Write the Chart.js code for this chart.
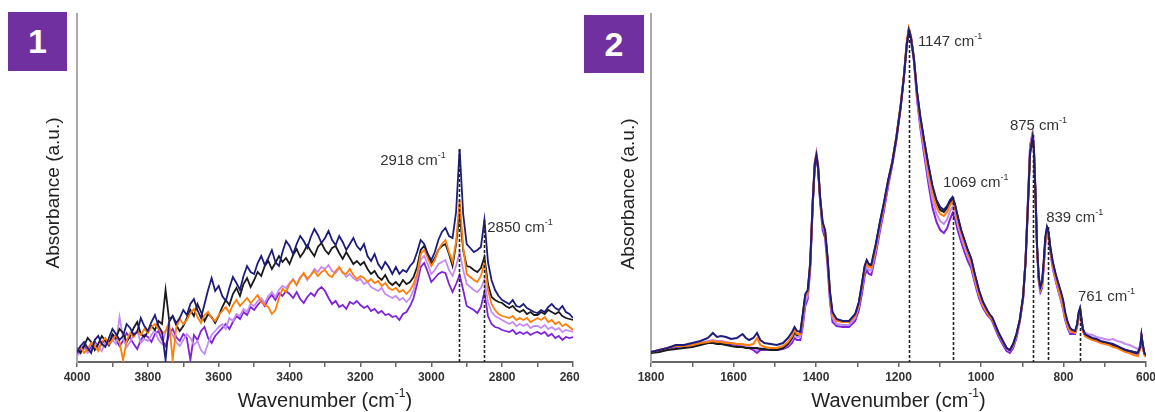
<!DOCTYPE html>
<html><head><meta charset="utf-8">
<script src="https://cdn.jsdelivr.net/npm/chart.js@4.4.0/dist/chart.umd.min.js"></script>
<style>
html,body{margin:0;padding:0;background:#fff;width:1155px;height:412px;overflow:hidden;position:relative}
canvas{position:absolute;top:0}
#c1{left:0}
#c2{left:580px}
.badge{position:absolute;background:#7030a0;color:#fff;font:bold 34px 'Liberation Sans',Arial,sans-serif;display:flex;align-items:center;justify-content:center}
</style></head><body>
<canvas id="c1" width="580" height="412"></canvas>
<canvas id="c2" width="575" height="412"></canvas>
<div class="badge" style="left:8px;top:12px;width:59px;height:59px">1</div>
<div class="badge" style="left:584px;top:15px;width:60px;height:58px">2</div>
<script>
// ---------- Panel 1 : 4000 - 2600 cm-1, step 10 ----------
const wn1 = [];
for (let w = 4000; w >= 2600; w -= 10) wn1.push(w);

const navy1 = [
 10,16,20,14,9,22,26,18,15,24,
 33,28,22,26,38,34,27,30,44,36,
 31,40,47,36,30,2,40,46,39,44,
 52,47,58,63,52,44,58,72,84,71,
 76,66,61,74,85,79,72,86,96,90,
 88,99,106,97,104,112,100,96,110,121,
 116,108,118,126,121,114,125,133,127,119,
 124,131,122,117,126,120,112,118,124,116,
 112,118,106,101,108,98,93,100,95,88,
 95,88,92,90,96,100,110,122,118,108,
 102,110,122,130,134,126,124,150,213,148,
 118,114,110,112,115,142,100,82,72,66,
 62,60,58,62,56,55,58,54,52,50,
 49,52,50,55,58,54,52,56,50,48,
 44];
const black1 = [
 14,9,16,24,20,12,18,26,21,17,
 28,24,33,29,20,26,34,40,28,25,
 30,36,32,41,38,72,42,46,37,31,
 36,44,52,46,58,50,41,48,45,39,
 46,55,62,57,68,74,66,78,84,75,
 82,90,86,96,101,93,99,106,100,104,
 98,107,113,105,110,117,111,106,115,119,
 112,108,114,116,109,103,110,104,98,101,
 97,100,93,88,91,85,82,87,80,77,
 80,76,82,78,80,85,95,112,116,108,
 98,104,112,116,118,108,96,118,150,112,
 96,95,92,90,94,105,78,65,62,60,
 59,56,54,56,52,50,52,48,50,47,
 47,50,48,52,50,48,50,46,44,43,
 42];
const orange1 = [
 12,15,9,13,19,16,11,20,24,18,
 22,27,20,2,21,29,25,31,27,33,
 29,35,38,33,28,31,40,2,34,43,
 38,42,49,53,45,39,47,50,44,41,
 47,51,55,49,57,62,56,60,64,59,
 63,67,60,57,55,48,52,64,73,70,
 78,82,77,84,89,83,87,91,86,90,
 92,87,85,91,95,89,88,93,87,83,
 86,84,80,83,79,81,76,79,74,72,
 74,70,72,68,72,78,88,108,112,104,
 96,102,112,118,122,110,100,120,162,115,
 88,85,82,80,86,99,72,58,52,48,
 46,45,44,46,42,44,42,44,40,42,
 44,42,45,40,42,38,40,36,38,35,
 32];
const lavender1 = [
 6,10,14,9,12,18,15,11,20,16,
 22,18,45,24,15,20,28,31,19,23,
 21,27,32,22,18,30,34,27,20,16,
 22,28,24,17,21,12,8,19,27,31,
 35,38,33,44,41,48,46,53,50,58,
 56,61,64,59,66,70,65,72,76,74,
 79,83,77,85,88,82,87,93,90,95,
 93,97,91,89,94,90,85,88,84,81,
 83,78,80,75,73,71,74,68,66,64,
 66,62,64,60,64,72,85,102,106,98,
 88,92,98,100,102,92,86,96,110,92,
 78,75,72,70,74,82,60,50,46,44,
 42,40,38,40,36,38,36,38,34,36,
 36,34,37,33,35,32,34,30,32,31,
 30];
const violet1 = [
 8,12,17,10,15,21,14,18,23,19,
 26,22,16,21,29,24,18,13,22,27,
 25,20,28,31,22,16,27,33,25,21,
 28,24,2,27,22,31,35,24,19,26,
 30,34,38,33,40,46,43,50,47,55,
 52,57,61,56,63,67,62,69,66,71,
 68,64,70,63,59,65,69,66,72,75,
 71,64,58,61,55,57,53,60,58,61,
 57,54,56,51,53,49,51,47,48,45,
 46,42,48,50,56,64,78,95,99,90,
 80,84,88,90,89,78,70,78,87,72,
 56,54,52,49,55,70,46,38,35,34,
 32,31,30,32,28,30,28,30,27,29,
 30,28,30,26,28,24,26,22,25,24,
 25];

// ---------- Panel 2 : 1800 - 600 cm-1 ----------
const wn2 = [
 1800,1780,1760,1740,1720,1700,1680,1662,1650,1640,
 1630,1618,1606,1592,1578,1570,1562,1552,1543,1535,
 1525,1510,1495,1480,1468,1458,1452,1446,1438,1432,
 1426,1420,1414,1408,1403,1399,1395,1390,1384,1378,
 1372,1366,1360,1350,1335,1320,1305,1296,1288,1282,
 1277,1272,1266,1255,1245,1235,1225,1215,1205,1195,
 1187,1180,1175,1170,1163,1155,1147,1138,1128,1118,
 1108,1099,1090,1082,1075,1069,1063,1056,1048,1040,
 1032,1024,1015,1005,995,985,978,973,966,958,
 948,938,930,922,914,906,898,892,886,881,
 875,872,868,864,860,856,852,848,844,840,
 836,832,826,819,812,806,801,796,790,784,
 778,772,767,763,760,757,753,748,740,730,
 720,710,700,690,680,670,660,650,640,630,
 620,614,611,608,604,600];
const navy2 = [
 10,12,14,17,17,19,21,24,29,25,
 26,25,23,24,28,24,22,24,29,22,
 19,18,17,19,24,30,35,31,30,48,
 68,72,100,160,198,207,196,165,140,132,
 105,70,50,43,41,41,48,60,80,96,
 102,98,97,118,140,160,182,200,225,255,
 285,318,332,325,305,270,245,222,198,177,
 162,155,152,156,162,165,158,145,132,122,
 112,104,88,72,60,52,47,45,38,30,
 22,14,12,18,28,42,65,100,160,210,
 225,215,170,115,85,75,80,100,125,135,
 130,115,100,88,78,70,62,50,40,34,
 32,31,38,50,54,45,33,28,26,24,
 23,21,20,19,18,16,14,12,11,10,
 9,15,27,18,9,7];
const black2 = [
 9,10,12,13,14,15,17,19,19,18,
 18,17,16,15,15,14,14,14,14,13,
 13,12,12,14,18,24,30,27,28,46,
 66,70,98,158,196,205,194,163,138,130,
 103,68,48,42,40,40,47,59,79,95,
 101,97,96,117,139,159,181,200,225,255,
 285,318,332,325,305,269,244,221,197,175,
 160,152,150,154,160,163,156,144,131,121,
 111,103,87,71,59,51,46,44,37,29,
 21,14,12,18,28,42,65,100,158,208,
 223,213,168,114,84,74,79,99,124,134,
 129,114,99,87,77,68,60,48,39,33,
 31,30,37,49,53,44,32,27,25,23,
 22,20,19,18,17,15,13,12,11,10,
 9,14,26,17,8,6];
const orange2 = [
 10,12,14,16,16,17,19,20,21,20,
 20,19,19,18,18,17,17,18,24,17,
 15,14,14,16,20,26,32,28,28,46,
 66,70,98,160,199,208,196,164,138,130,
 103,67,47,41,40,40,46,58,78,94,
 99,95,94,115,138,158,181,201,226,257,
 287,320,334,327,306,268,242,218,192,170,
 155,148,146,150,157,160,153,141,129,119,
 109,100,84,68,57,49,45,43,37,29,
 21,14,12,17,27,41,64,100,160,212,
 226,215,169,113,83,73,77,96,121,132,
 127,112,97,84,73,64,56,45,37,31,
 30,29,36,48,52,43,31,26,24,22,
 21,19,18,17,15,14,12,10,9,7,
 6,13,25,16,7,5];
const lavender2 = [
 10,12,14,16,16,17,19,21,22,21,
 21,20,19,18,17,16,15,14,12,14,
 13,12,13,14,17,22,28,25,25,40,
 60,66,95,160,201,210,198,164,136,128,
 100,64,44,38,37,37,44,56,75,90,
 96,92,91,112,135,156,179,199,224,255,
 285,318,333,326,304,265,238,213,186,163,
 148,141,138,143,151,155,149,137,125,115,
 106,98,82,67,56,49,46,43,36,28,
 20,13,11,16,26,41,64,101,162,215,
 228,217,170,113,82,72,76,96,121,132,
 127,112,96,83,72,62,55,44,36,30,
 30,30,37,48,52,44,33,29,28,27,
 25,24,23,22,23,21,20,18,17,15,
 13,16,27,18,9,6];
const violet2 = [
 10,11,13,15,16,17,18,19,20,19,
 19,18,18,17,16,15,14,12,9,12,
 12,12,12,13,15,19,24,22,22,36,
 56,63,92,156,197,204,193,160,132,124,
 96,60,40,36,35,35,41,52,70,86,
 92,88,87,108,131,152,176,197,222,253,
 284,316,331,324,302,262,234,208,180,155,
 140,132,129,134,143,149,143,131,120,110,
 101,94,79,64,54,47,44,41,34,26,
 18,11,9,14,24,40,63,102,164,217,
 229,218,170,112,80,70,74,94,119,130,
 125,110,94,81,70,61,53,42,34,28,
 28,28,35,46,50,42,31,27,25,23,
 21,20,19,18,17,15,13,12,10,9,
 8,14,26,17,8,6];

// Peak annotations: line position, line top, label text, label anchor (data units)
const peaks1 = [
 {pos:2921, top:213, label:'2918', lx:3144, ly:201},
 {pos:2850, top:142, label:'2850', lx:2842, ly:134}
];
const peaks2 = [
 {pos:1175, top:332, label:'1147', lx:1153, ly:320},
 {pos:1067, top:165, label:'1069', lx:1092, ly:179},
 {pos:875,  top:227, label:'875',  lx:930,  ly:236},
 {pos:837,  top:135, label:'839',  lx:842,  ly:144},
 {pos:760,  top:54,  label:'761',  lx:765,  ly:65}
];

const FONT = "'Liberation Sans', Arial, sans-serif";
const COL = {navy:'#1c1c7a', black:'#1a1a1a', orange:'#ff7f0a', lavender:'#c48cf2', violet:'#7f22d8'};

function supText(ctx, parts, x, y, size, align) {
  const supSize = Math.round(size * 0.62);
  let total = 0;
  const widths = parts.map(([t, s]) => { ctx.font = `${s ? supSize : size}px ${FONT}`; const w = ctx.measureText(t).width; total += w; return w; });
  let cx = align === 'center' ? x - total / 2 : x;
  ctx.textAlign = 'left'; ctx.textBaseline = 'middle';
  parts.forEach(([t, s], i) => {
    ctx.font = `${s ? supSize : size}px ${FONT}`;
    ctx.fillText(t, cx, s ? y - size * 0.38 : y);
    cx += widths[i];
  });
}

const annot = {
  id: 'annot',
  afterDraw(chart, args, opts) {
    const {ctx, chartArea} = chart;
    const x = chart.scales.x, y = chart.scales.y;
    ctx.save();
    ctx.setLineDash([3, 2]); ctx.lineWidth = 1.6; ctx.strokeStyle = '#222';
    opts.peaks.forEach(p => {
      const px = Math.round(x.getPixelForValue(p.pos)) + 0.5;
      ctx.beginPath(); ctx.moveTo(px, y.getPixelForValue(p.top)); ctx.lineTo(px, y.getPixelForValue(0)); ctx.stroke();
    });
    ctx.setLineDash([]);
    ctx.fillStyle = '#333';
    opts.peaks.forEach(p => supText(ctx, [[p.label + ' cm', 0], ['-1', 1]], x.getPixelForValue(p.lx), y.getPixelForValue(p.ly), 15, 'left'));
    ctx.fillStyle = '#222';
    supText(ctx, [['Wavenumber (cm', 0], ['-1', 1], [')', 0]], (chartArea.left + chartArea.right) / 2, 401, 20, 'center');
    ctx.translate(opts.yTitleX, opts.yTitleY); ctx.rotate(-Math.PI / 2);
    ctx.font = `19px ${FONT}`; ctx.textAlign = 'center'; ctx.textBaseline = 'middle';
    ctx.fillText('Absorbance (a.u.)', 0, 0);
    ctx.restore();
  }
};

function ds(wn, vals, color, width) {
  return {data: wn.map((w, i) => ({x: w, y: vals[i]})), borderColor: color, borderWidth: width,
          pointRadius: 0, tension: 0, fill: false};
}

function makeChart(id, wn, sets, min, max, yWidth, padRight, peaks, yTitleX, yTitleY, lw) {
  return new Chart(document.getElementById(id), {
    type: 'line',
    data: {datasets: [
      ds(wn, sets.navy, COL.navy, lw), ds(wn, sets.orange, COL.orange, lw), ds(wn, sets.black, COL.black, lw),
      ds(wn, sets.lavender, COL.lavender, lw), ds(wn, sets.violet, COL.violet, lw)]},
    options: {
      responsive: false, animation: false, devicePixelRatio: 1, events: [],
      layout: {padding: {left: 0, right: padRight, top: 14, bottom: 0}},
      plugins: {legend: {display: false}, tooltip: {enabled: false},
                annot: {peaks, yTitleX, yTitleY}},
      scales: {
        x: {type: 'linear', reverse: true, min, max,
            ticks: {stepSize: 100, autoSkip: false, maxRotation: 0, padding: 3, color: '#333',
                    font: {family: FONT, size: 12, weight: 'bold'},
                    callback: v => (v % 200 === 0 ? String(v) : '')},
            grid: {drawOnChartArea: false, drawTicks: true, tickLength: 5, color: '#666', lineWidth: 1.5},
            border: {display: true, color: '#666', width: 2},
            afterFit: s => { s.height = 50; s.paddingLeft = 0; s.paddingRight = 0; }},
        y: {min: 0, max: 348, ticks: {display: false}, grid: {display: false},
            border: {display: true, color: '#aaa', width: 2},
            afterFit: s => { s.width = yWidth; s.paddingTop = 0; s.paddingBottom = 0; }}
      }
    },
    plugins: [annot]
  });
}

makeChart('c1', wn1, {navy: navy1, black: black1, orange: orange1, lavender: lavender1, violet: violet1},
          2600, 4000, 77, 7, peaks1, 54, 193, 1.8);
makeChart('c2', wn2, {navy: navy2, black: black2, orange: orange2, lavender: lavender2, violet: violet2},
          600, 1800, 71, 9, peaks2, 49, 194, 2);
</script>
</body></html>
